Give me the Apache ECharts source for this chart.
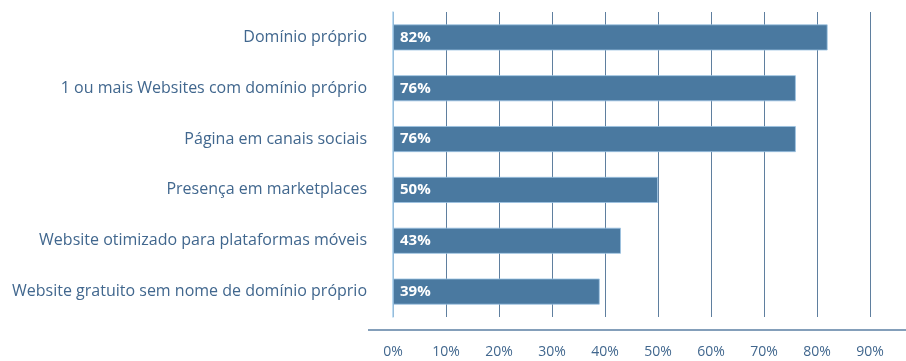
<!DOCTYPE html>
<html>
<head>
<meta charset="utf-8">
<script src="https://cdn.jsdelivr.net/npm/echarts@6/dist/echarts.min.js"></script>
<style>
  html, body { margin: 0; padding: 0; background: #ffffff; }
  #chart { width: 906px; height: 361px; }
</style>
</head>
<body>
<div id="chart"></div>
<script>
// Presença online: share of companies per item
const categories = [
  'Domínio próprio',
  '1 ou mais Websites com domínio próprio',
  'Página em canais sociais',
  'Presença em marketplaces',
  'Website otimizado para plataformas móveis',
  'Website gratuito sem nome de domínio próprio'
];
const values = [82, 76, 76, 50, 43, 39];
const tickMax = 90;
const tickStep = 10;

const FONT = '"Open Sans", "Noto Sans", sans-serif';
const BLUE = '#4a79a0';
const TEXT = '#41678e';

const chart = echarts.init(document.getElementById('chart'));
chart.setOption({
  animation: false,
  backgroundColor: '#ffffff',
  grid: { left: 393, right: 36, top: 12, bottom: 44 },
  xAxis: {
    type: 'value',
    min: 0,
    max: tickMax,
    interval: tickStep,
    offset: 13,
    axisLine: { show: false },
    axisTick: { show: false },
    axisLabel: {
      formatter: '{value}%',
      color: TEXT,
      fontFamily: FONT,
      fontSize: 14,
      margin: 15
    },
    splitLine: { show: true, lineStyle: { color: '#5f7f9f', width: 1 } }
  },
  yAxis: {
    type: 'category',
    data: categories,
    inverse: true,
    axisLine: { show: true, lineStyle: { color: '#a9d1ee', width: 1.5 } },
    axisTick: { show: false },
    axisLabel: {
      color: TEXT,
      fontFamily: FONT,
      fontSize: 16,
      margin: 26
    }
  },
  series: [{
    type: 'bar',
    data: values,
    barWidth: 26,
    itemStyle: { color: BLUE, borderColor: '#9cc3e2', borderWidth: 0.8 },
    label: {
      show: true,
      position: 'insideLeft',
      distance: 7,
      formatter: '{c}%',
      color: '#ffffff',
      fontFamily: FONT,
      fontWeight: 'bold',
      fontSize: 15
    }
  }],
  graphic: [{
    type: 'line',
    shape: { x1: 368, y1: 330, x2: 906, y2: 330 },
    style: { stroke: '#5b7fa3', lineWidth: 1.5 }
  }]
});
</script>
</body>
</html>
